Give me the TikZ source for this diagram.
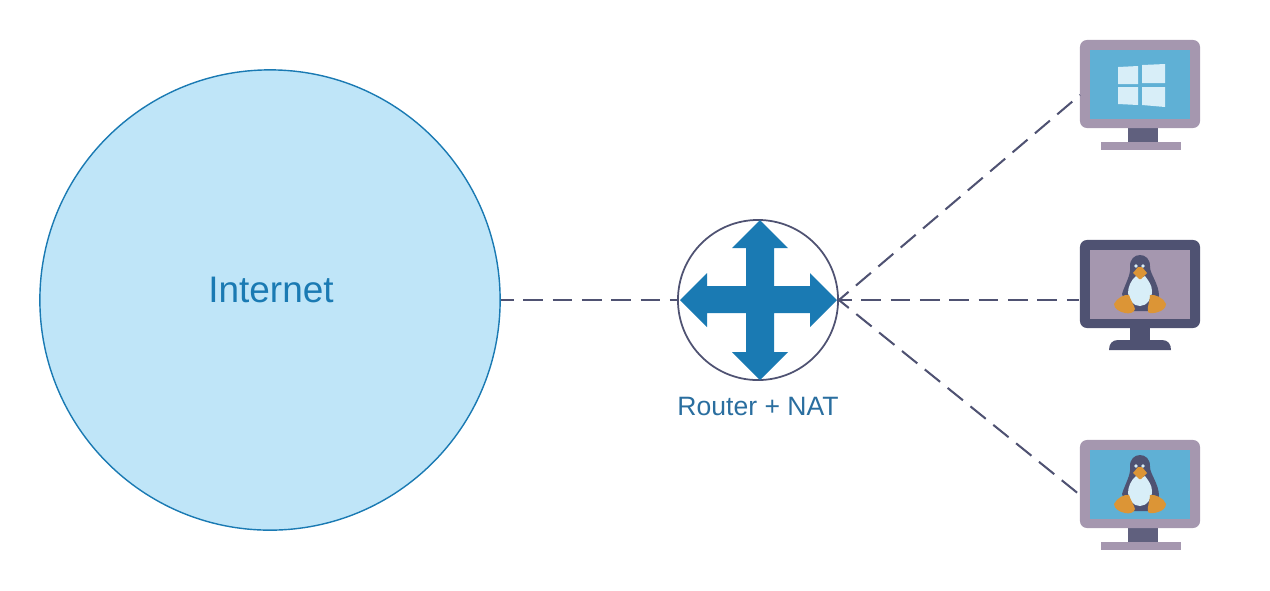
\documentclass[tikz,border=0pt]{standalone}
\usepackage{fontspec}
\setmainfont{Liberation Sans}
\definecolor{netfill}{HTML}{BFE5F8}
\definecolor{netblue}{HTML}{1A7AB3}
\definecolor{slate}{HTML}{4F5272}
\definecolor{mauve}{HTML}{A597AF}
\definecolor{screenblue}{HTML}{5FB0D5}
\definecolor{paleblue}{HTML}{D8EEF8}
\definecolor{tuxorange}{HTML}{DC9536}
\tikzset{
  netline/.style={slate,line width=0.58pt,dash pattern=on 5.6pt off 2.75pt,dash phase=2pt},
  pcframe/.style={rectangle,rounded corners=2pt,minimum width=1.2cm,minimum height=0.88cm,inner sep=0pt},
  pcscreen/.style={rectangle,minimum width=1cm,minimum height=0.69cm,inner sep=0pt},
  tux/.pic={
    \fill[slate] (-10,-17) .. controls (-11,-33) and (11,-33) .. (10,-17)
      .. controls (10,-10) and (19,0) .. (19,12) -- (14,27) -- (-12,27) -- (-18,10)
      .. controls (-15,0) and (-9,-9) .. (-10,-17) -- cycle;
    \fill[paleblue] (-4,-8) .. controls (-9,-4) and (-12,3) .. (-12,9)
      .. controls (-11,16) and (-7,22) .. (0,22) .. controls (7,22) and (12,14) .. (12,7)
      .. controls (12,1) and (8,-4) .. (5,-8) .. controls (2,-6) and (-1,-6) .. (-4,-8) -- cycle;
    \fill[tuxorange] (-2,-17) -- (2,-17) -- (7,-11) -- (1,-5) -- (-1,-5) -- (-7,-11) -- cycle;
    \fill[paleblue] (-4,-18) circle (1.8) (3,-18) circle (1.8);
    \fill[tuxorange] (-26,20) .. controls (-23,14) and (-16,10) .. (-11,11)
      .. controls (-9,17) and (-6,21) .. (-5,25) .. controls (-6,29) and (-11,30) .. (-15,29)
      .. controls (-20,28) and (-26,25) .. (-26,20) -- cycle;
    \fill[tuxorange] (26,20) .. controls (24,14) and (15,10) .. (10,11)
      .. controls (10,17) and (7,22) .. (8,28) .. controls (10,30) and (15,29) .. (18,28)
      .. controls (22,27) and (26,24) .. (26,20) -- cycle;
  },
  winlogo/.pic={
    \fill[paleblue] (-22,-17) -- (-2,-18) -- (-2,0) -- (-22,0) -- cycle;
    \fill[paleblue] (2,-19) -- (25,-20) -- (25,-1) -- (2,-1) -- cycle;
    \fill[paleblue] (-22,3) -- (-2,3) -- (-2,21) -- (-22,20) -- cycle;
    \fill[paleblue] (2,3) -- (25,3) -- (25,23) -- (2,21) -- cycle;
  },
  flatstand/.pic={
    \fill[slate!80!mauve] (-12,44) -- (18,44) -- (18,58) -- (-12,58) -- cycle;
    \fill[mauve] (-39,58) rectangle (41,66);
  },
  roundstand/.pic={
    \fill[slate] (-10,44) rectangle (10,56);
    \fill[slate] (-31,66) .. controls (-31,60) and (-28,56) .. (-22,56) -- (22,56)
      .. controls (28,56) and (31,60) .. (31,66) -- cycle;
  }
}
\begin{document}
\begin{tikzpicture}[x=0.01cm,y=-0.01cm]
\useasboundingbox (0,0) rectangle (1270,590);
\node[circle,draw=netblue,fill=netfill,line width=0.4pt,minimum size=4.6cm,inner sep=0pt] (internet) at (270,300) {};
\node[netblue,font=\fontsize{10.5pt}{12pt}\selectfont] (internetlabel) at (271,290) {Internet};
\node[circle,draw=slate,fill=white,line width=0.5pt,minimum size=1.6cm,inner sep=0pt] (router) at (758,300) {};
\node[netblue!70!slate,font=\fontsize{7.55pt}{9pt}\selectfont] (routerlabel) at (758,406) {Router + NAT};
% router arrows
\fill[netblue] (760,220) -- (788,248) -- (774,248) -- (774,286) -- (810,286) -- (810,273) -- (837,300)
  -- (810,327) -- (810,313) -- (774,313) -- (774,352) -- (788,352) -- (760,380) -- (732,352)
  -- (746,352) -- (746,313) -- (707,313) -- (707,327) -- (680,300) -- (707,273) -- (707,286)
  -- (746,286) -- (746,248) -- (732,248) -- cycle;
% monitors
\pic at (1140,84) {flatstand};
\pic at (1140,284) {roundstand};
\pic at (1140,484) {flatstand};
\node[pcframe,fill=mauve] (pcwin) at (1140,84) {};
\node[pcscreen,fill=screenblue] (screenwin) at (1140,84.5) {};
\pic at (1140,84) {winlogo};
\node[pcframe,fill=slate] (pctux) at (1140,284) {};
\node[pcscreen,fill=mauve] (screentux) at (1140,284.5) {};
\pic at (1140,284) {tux};
\node[pcframe,fill=mauve] (pctuxb) at (1140,484) {};
\node[pcscreen,fill=screenblue] (screentuxb) at (1140,484.5) {};
\pic at (1140,484) {tux};
% links
\coordinate (portwin) at (1080,95);
\coordinate (porttuxb) at (1080,495);
\draw[netline] (internet.east) -- (router.west);
\draw[netline] (router.east) -- (portwin);
\draw[netline] (router.east) -- (router.east -| pctux.west);
\draw[netline] (router.east) -- (porttuxb);
\end{tikzpicture}
\end{document}
